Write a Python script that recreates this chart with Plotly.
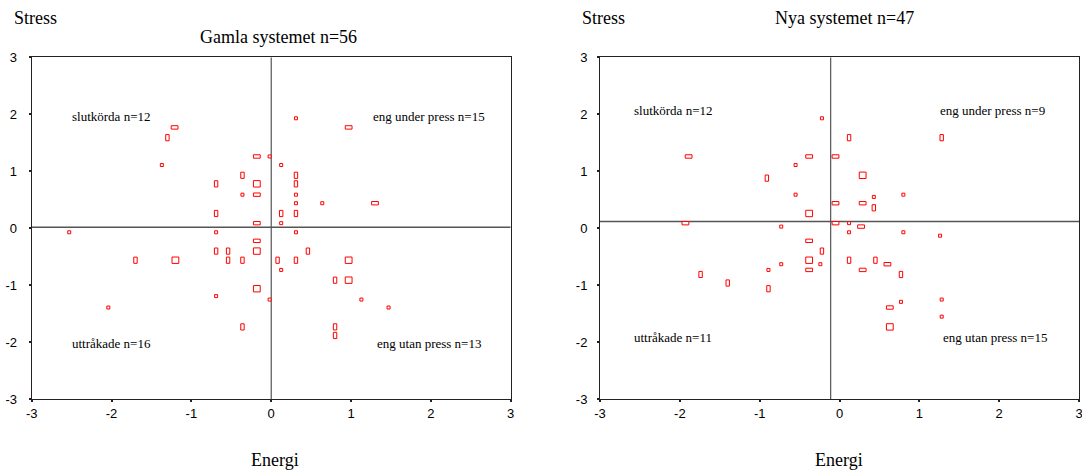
import plotly.graph_objects as go

# ---------------- data ----------------
# Gamla systemet (left panel)
old_energi = [-1.21, -1.30, -1.37, -0.18, -0.02, -0.36, -0.69, -0.18, -0.36, -0.18, -0.69, -0.18,
              -2.53, -0.69, -0.18, -0.69, -0.54, -0.18, -1.70, -1.20, -0.54, -0.36, -0.18, -0.69,
              -0.02, -2.04, -0.36,
              0.31, 0.97, 0.125, 0.31, 0.31, 0.31, 0.31, 0.64, 1.30, 0.125, 0.31, 0.125,
              0.31, 0.46, 0.08, 0.31, 0.97, 0.125, 0.80, 0.97, 1.13, 1.47, 0.80, 0.80]
old_stress = [1.77, 1.59, 1.11, 1.26, 1.26, 0.93, 0.78, 0.78, 0.59, 0.59, 0.26, 0.09,
              -0.07, -0.07, -0.22, -0.40, -0.40, -0.40, -0.56, -0.56, -0.56, -0.56, -1.06, -1.19,
              -1.25, -1.39, -1.73,
              1.93, 1.77, 1.11, 0.93, 0.78, 0.59, 0.44, 0.44, 0.44, 0.26, 0.26, 0.09,
              -0.07, -0.40, -0.56, -0.56, -0.56, -0.73, -0.91, -0.91, -1.25, -1.39, -1.73, -1.88]
old_kind = ['h', 'v', 's', 'h', 's', 'v', 'v', 'b', 's', 'h', 'v', 'h',
            's', 's', 'h', 'v', 'v', 'b', 'v', 'b', 'v', 'v', 'b', 's',
            's', 's', 'v',
            's', 'h', 's', 'v', 'v', 's', 's', 's', 'h', 'v', 'v', 's',
            's', 'v', 'v', 'v', 'b', 's', 'v', 'b', 's', 's', 'v', 'v']

# Nya systemet (right panel)
new_energi = [-0.22, -1.89, -0.38, -0.55, -0.91, -0.55, -0.38,
              -1.93, -0.73, -0.38, -0.22, -0.38, -0.73, -0.24, -0.38, -0.89, -1.74, -1.40, -0.89,
              0.12, 1.28, -0.05, 0.29, 0.43, 0.80, -0.05, 0.29, 0.43, -0.05, 0.12, 0.27,
              0.12, 0.80, 1.26, 0.12, 0.45, 0.60, 0.29, 0.77, 0.77, 1.28, 0.63, 1.28, 0.63]
new_stress = [1.93, 1.26, 1.26, 1.11, 0.88, 0.59, 0.26,
              0.09, 0.03, -0.22, -0.40, -0.56, -0.63, -0.63, -0.73, -0.73, -0.81, -0.96, -1.06,
              1.59, 1.59, 1.26, 0.93, 0.55, 0.59, 0.44, 0.44, 0.36, 0.09, 0.09, 0.03,
              -0.07, -0.07, -0.13, -0.56, -0.56, -0.63, -0.73, -0.81, -1.29, -1.25, -1.39, -1.55, -1.73]
new_kind = ['s', 'h', 'h', 's', 'v', 's', 'b',
            'h', 's', 'h', 'v', 'b', 's', 's', 'h', 's', 'v', 'v', 'v',
            'v', 'v', 'h', 'b', 's', 's', 'h', 'h', 'v', 'h', 's', 'h',
            's', 's', 's', 'v', 'v', 'h', 'h', 'v', 's', 's', 'h', 's', 'b']

# reference (mean) lines
old_ref_x, old_ref_y = 0.0, 0.02
new_ref_x, new_ref_y = -0.11, 0.12

titles = ["Gamla systemet n=56", "Nya systemet n=47"]
old_quadrants = ["slutkörda n=12", "eng under press n=15", "uttråkade n=16", "eng utan press n=13"]
new_quadrants = ["slutkörda n=12", "eng under press n=9", "uttråkade n=11", "eng utan press n=15"]
tick_vals = [-3, -2, -1, 0, 1, 2, 3]

# ---------------- figure ----------------
W, H = 1082, 470
SERIF = "Liberation Serif, Times New Roman, serif"
SANS = "Liberation Sans, Arial, sans-serif"

# half-sizes in pixels for marker kinds
KIND_SIZE = {'s': (1.5, 1.5), 'h': (3.4, 1.7), 'v': (1.7, 3.1), 'b': (3.4, 3.2)}

fig = go.Figure()
shapes = []
annotations = []

panels = [
    dict(x=old_energi, y=old_stress, k=old_kind, xa='x', ya='y', rx=old_ref_x, ry=old_ref_y,
         quads=old_quadrants, qpos=[(-2.52, 1.97), (1.25, 1.97), (-2.52, -2.02), (1.30, -2.02)]),
    dict(x=new_energi, y=new_stress, k=new_kind, xa='x2', ya='y2', rx=new_ref_x, ry=new_ref_y,
         quads=new_quadrants, qpos=[(-2.60, 2.06), (1.23, 2.06), (-2.60, -1.91), (1.27, -1.91)]),
]

for p in panels:
    # reference lines
    shapes.append(dict(type='line', xref=p['xa'], yref=p['ya'], x0=p['rx'], x1=p['rx'], y0=-3, y1=3,
                       line=dict(color='#333333', width=1)))
    shapes.append(dict(type='line', xref=p['xa'], yref=p['ya'], x0=-3, x1=3, y0=p['ry'], y1=p['ry'],
                       line=dict(color='#555555', width=1.5)))
    # markers (rectangles of fixed pixel size, anchored at data coordinates)
    for xv, yv, kv in zip(p['x'], p['y'], p['k']):
        hw, hh = KIND_SIZE[kv]
        shapes.append(dict(type='rect', xref=p['xa'], yref=p['ya'],
                           xsizemode='pixel', ysizemode='pixel', xanchor=xv, yanchor=yv,
                           x0=-hw, x1=hw, y0=-hh, y1=hh,
                           line=dict(color='#ff0000', width=1), fillcolor='white'))
    fig.add_trace(go.Scatter(x=p['x'], y=p['y'], mode='markers', xaxis=p['xa'], yaxis=p['ya'],
                             marker=dict(size=6, color='rgba(0,0,0,0)'), showlegend=False,
                             hoverinfo='x+y'))
    for txt, (qx, qy) in zip(p['quads'], p['qpos']):
        annotations.append(dict(text=txt, xref=p['xa'], yref=p['ya'], x=qx, y=qy,
                                xanchor='left', yanchor='middle', showarrow=False,
                                font=dict(family=SERIF, size=13, color='black')))

# panel texts (paper coords from pixel positions)
def px(xp):
    return xp / W

def py(yp):
    return 1 - yp / H

for sx in (12, 580):
    annotations.append(dict(text="Stress", xref='paper', yref='paper', x=px(sx), y=py(17.5),
                            xanchor='left', yanchor='middle', showarrow=False,
                            font=dict(family=SERIF, size=18, color='black')))
annotations.append(dict(text=titles[0], xref='paper', yref='paper', x=px(278), y=py(37),
                        xanchor='center', yanchor='middle', showarrow=False,
                        font=dict(family=SERIF, size=18, color='black')))
annotations.append(dict(text=titles[1], xref='paper', yref='paper', x=px(844), y=py(18),
                        xanchor='center', yanchor='middle', showarrow=False,
                        font=dict(family=SERIF, size=18, color='black')))
for ex in (275, 839):
    annotations.append(dict(text="Energi", xref='paper', yref='paper', x=px(ex), y=py(460),
                            xanchor='center', yanchor='middle', showarrow=False,
                            font=dict(family=SERIF, size=18, color='black')))

axis_common = dict(range=[-3, 3], tickvals=tick_vals, ticktext=[str(v) for v in tick_vals],
                   showgrid=False, zeroline=False, showline=True, mirror=True,
                   linecolor='#222222', linewidth=1, ticks='outside', ticklen=2, tickwidth=2,
                   tickcolor='#222222', tickfont=dict(family=SANS, size=13, color='black'),
                   fixedrange=True, automargin=False, ticklabeloverflow='allow')

ytop, ybot = 57.3, 399.3
fig.update_layout(
    width=W, height=H,
    margin=dict(l=0, r=0, t=0, b=0, pad=0, autoexpand=False),
    paper_bgcolor='white', plot_bgcolor='white',
    showlegend=False,
    xaxis=dict(axis_common, domain=[px(31.7), px(510.7)], anchor='y'),
    yaxis=dict(axis_common, domain=[py(ybot), py(ytop)], anchor='x', ticklabelstandoff=9),
    xaxis2=dict(axis_common, domain=[px(600), px(1079)], anchor='y2'),
    yaxis2=dict(axis_common, domain=[py(ybot), py(ytop)], anchor='x2', ticklabelstandoff=7),
    shapes=shapes,
    annotations=annotations,
)

fig.write_html("out.html")
